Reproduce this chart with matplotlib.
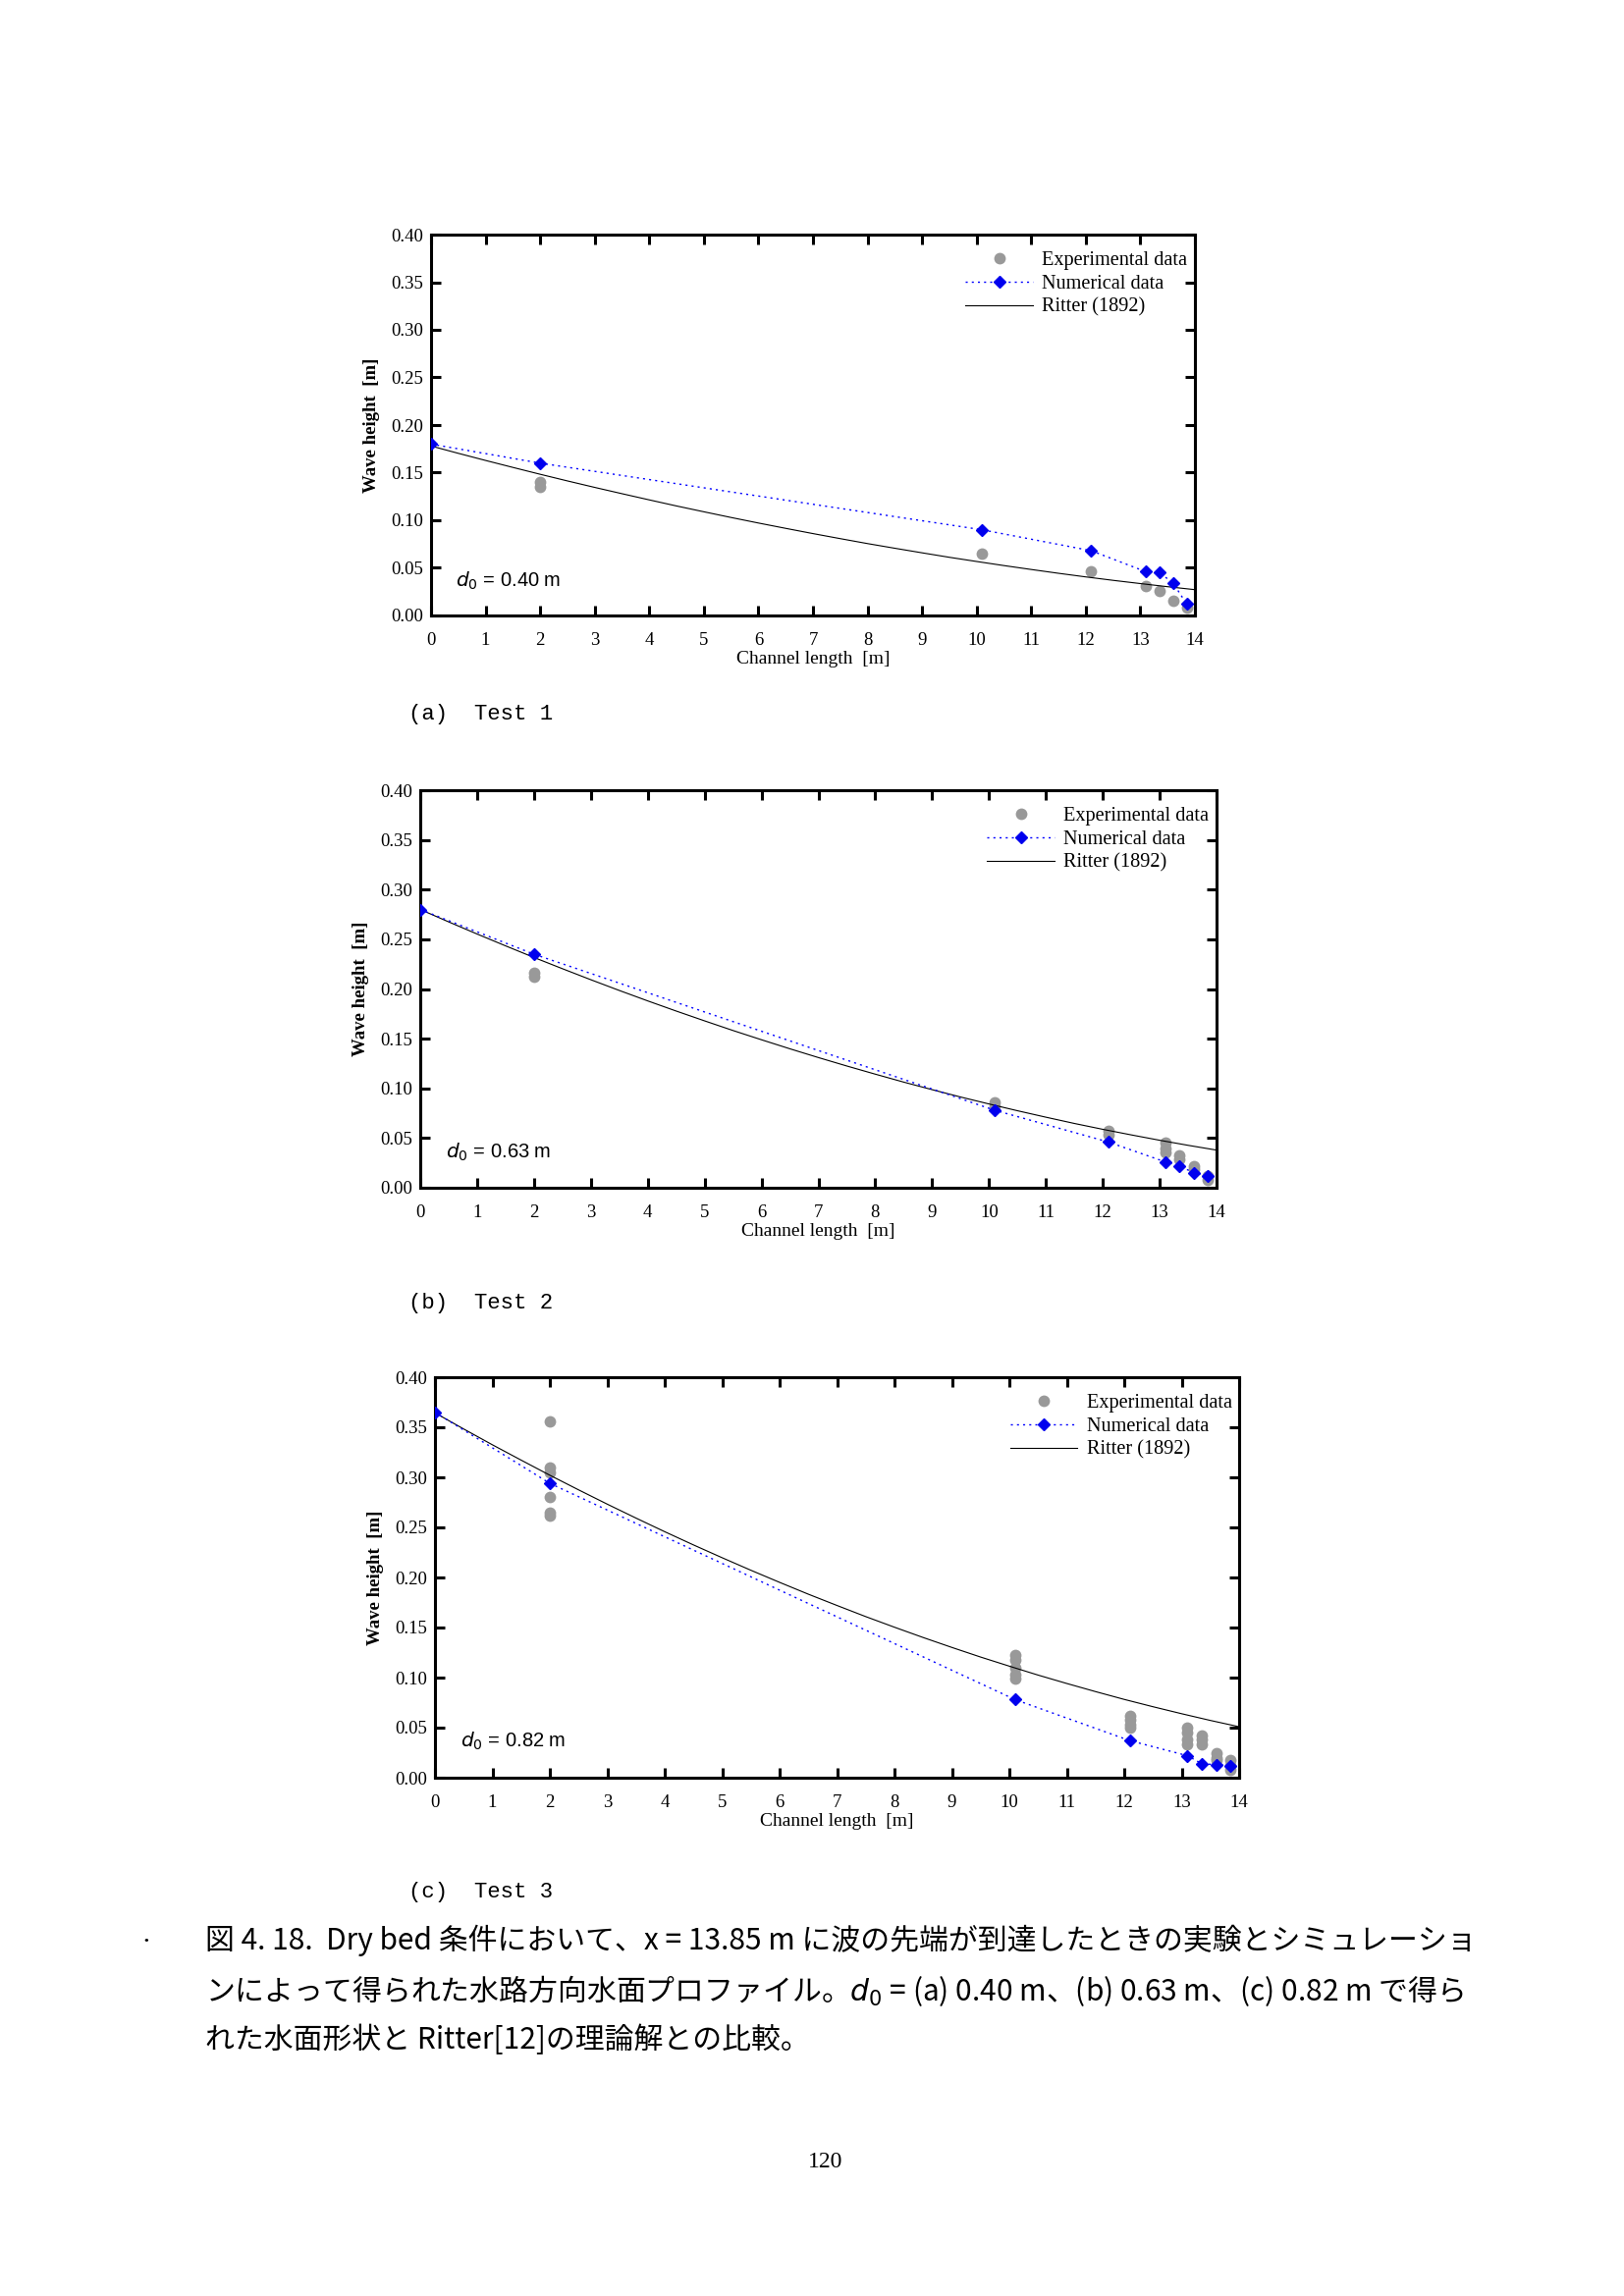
import matplotlib
matplotlib.use("Agg")
import matplotlib.pyplot as plt
from matplotlib.lines import Line2D

plt.rcParams['font.family'] = ['Liberation Serif', 'DejaVu Serif']

# ---------------- data ----------------
num_x = [0, 2, 10.1, 12.1, 13.1, 13.35, 13.6, 13.85]
num_a = [0.180, 0.160, 0.090, 0.068, 0.046, 0.045, 0.034, 0.012]
num_b = [0.280, 0.235, 0.078, 0.046, 0.026, 0.022, 0.015, 0.012]
num_c = [0.365, 0.294, 0.078, 0.037, 0.022, 0.014, 0.013, 0.012]

exp_a_x = [2, 2, 10.1, 12.1, 13.1, 13.35, 13.6, 13.85]
exp_a_y = [0.135, 0.140, 0.065, 0.046, 0.031, 0.026, 0.015, 0.008]

exp_b_x = [2, 2, 10.1, 10.1, 12.1, 12.1, 13.1, 13.1, 13.1, 13.35, 13.35, 13.6, 13.6, 13.85, 13.85]
exp_b_y = [0.212, 0.216, 0.086, 0.082, 0.057, 0.053, 0.045, 0.040, 0.036, 0.033, 0.029, 0.022, 0.019, 0.012, 0.008]

exp_c_x = [2, 2, 2, 2, 2, 2,
           10.1, 10.1, 10.1, 10.1, 10.1,
           12.1, 12.1, 12.1, 12.1,
           13.1, 13.1, 13.1, 13.1,
           13.35, 13.35, 13.35,
           13.6, 13.6, 13.6,
           13.85, 13.85, 13.85]
exp_c_y = [0.356, 0.310, 0.305, 0.280, 0.265, 0.262,
           0.123, 0.118, 0.110, 0.103, 0.099,
           0.062, 0.058, 0.053, 0.050,
           0.050, 0.045, 0.038, 0.033,
           0.042, 0.038, 0.033,
           0.025, 0.020, 0.018,
           0.018, 0.012, 0.008]

ritter_x = [0, 0.5, 1, 1.5, 2, 2.5, 3, 3.5, 4, 4.5, 5, 5.5, 6, 6.5, 7, 7.5,
            8, 8.5, 9, 9.5, 10, 10.5, 11, 11.5, 12, 12.5, 13, 13.5, 14]
ritter_a = [0.1780, 0.1703, 0.1628, 0.1555, 0.1483, 0.1413, 0.1345, 0.1279, 0.1214,
            0.1150, 0.1089, 0.1029, 0.0971, 0.0915, 0.0860, 0.0807, 0.0755, 0.0706,
            0.0658, 0.0611, 0.0567, 0.0524, 0.0483, 0.0443, 0.0405, 0.0369, 0.0335,
            0.0302, 0.0271]
ritter_b = [0.2800, 0.2675, 0.2553, 0.2434, 0.2317, 0.2204, 0.2093, 0.1985, 0.1880,
            0.1778, 0.1679, 0.1582, 0.1489, 0.1398, 0.1310, 0.1225, 0.1143, 0.1063,
            0.0987, 0.0913, 0.0843, 0.0775, 0.0710, 0.0647, 0.0588, 0.0532, 0.0478,
            0.0427, 0.0379]
ritter_c = [0.3644, 0.3483, 0.3325, 0.3172, 0.3021, 0.2875, 0.2732, 0.2593, 0.2457,
            0.2325, 0.2197, 0.2072, 0.1951, 0.1833, 0.1720, 0.1609, 0.1503, 0.1400,
            0.1301, 0.1205, 0.1114, 0.1025, 0.0941, 0.0860, 0.0782, 0.0709, 0.0639,
            0.0572, 0.0509]

d0_labels = ["0.40", "0.63", "0.82"]
panel_titles = ["(a)  Test 1", "(b)  Test 2", "(c)  Test 3"]
legend_labels = ["Experimental data", "Numerical data", "Ritter (1892)"]
xticks = list(range(0, 15))
yticks = [0.00, 0.05, 0.10, 0.15, 0.20, 0.25, 0.30, 0.35, 0.40]

# ---------------- figure ----------------
fig = plt.figure(figsize=(16.54, 23.39), dpi=100)

W, H = 1654.0, 2339.0
boxes = [(439, 239, 1217, 627), (428, 805, 1239, 1210), (443, 1403, 1262, 1811)]
exps = [(exp_a_x, exp_a_y), (exp_b_x, exp_b_y), (exp_c_x, exp_c_y)]
nums = [num_a, num_b, num_c]
ritters = [ritter_a, ritter_b, ritter_c]
title_y = [727, 1327, 1927]

for i in range(3):
    l, t, r, b = boxes[i]
    ax = fig.add_axes([l / W, 1 - b / H, (r - l) / W, (b - t) / H])
    ex, ey = exps[i]
    ax.plot(ex, ey, 'o', color='#999999', markersize=8.5, markeredgewidth=0,
            linestyle='none', zorder=2)
    ax.plot(num_x, nums[i], linestyle=(0, (1.5, 3)), color='#0000FF', linewidth=1.0,
            marker='D', markersize=6.5, markerfacecolor='#0000EE',
            markeredgecolor='#0000EE', zorder=4)
    ax.plot(ritter_x, ritters[i], '-', color='black', linewidth=0.8, zorder=3)

    ax.set_xlim(0, 14)
    ax.set_ylim(0, 0.40)
    ax.set_xticks(xticks)
    ax.set_yticks(yticks)
    ax.set_xticklabels([str(v) for v in xticks], fontsize=13.5)
    ax.set_yticklabels(["%.2f" % v for v in yticks], fontsize=13.5)
    ax.tick_params(axis='both', which='major', direction='in', length=7.2, width=2.2,
                   top=True, right=True, bottom=True, left=True)
    ax.tick_params(axis='x', pad=12)
    ax.tick_params(axis='y', pad=6)
    for sp in ax.spines.values():
        sp.set_linewidth(2.2)

    ax.set_xlabel("Channel length  [m]", fontsize=14, labelpad=2)
    ax.set_ylabel("Wave height  [m]", fontsize=13.5, fontweight='bold', labelpad=8)

    ax.text(0.032, 0.09, r"$d_0$ = " + d0_labels[i] + " m", transform=ax.transAxes,
            fontsize=14.5, family=['Liberation Sans', 'DejaVu Sans'], va='center', ha='left')

    handles = [
        Line2D([], [], marker='o', color='#999999', linestyle='none', markersize=8.5,
               markeredgewidth=0),
        Line2D([], [], marker='D', color='#0000FF', linestyle=(0, (1.5, 3)), linewidth=1.0,
               markersize=6.5, markerfacecolor='#0000EE', markeredgecolor='#0000EE'),
        Line2D([], [], color='black', linewidth=0.8),
    ]
    ax.legend(handles, legend_labels,
              loc='upper right', bbox_to_anchor=(1.012, 1.0), frameon=False,
              fontsize=14.6, handlelength=3.4,
              borderaxespad=0.15, borderpad=0.7, labelspacing=0.22, handletextpad=0.45)

    fig.text(416 / W, 1 - title_y[i] / H, panel_titles[i], fontsize=16,
             family=['Liberation Mono', 'DejaVu Sans Mono'], va='center', ha='left')

# caption
cap_font = ['Noto Sans CJK JP', 'DejaVu Sans']
fig.text(140 / W, 1 - 1977 / H, "・", fontsize=12, family=cap_font, va='center', ha='left')
cap_lines = [
    "図 4. 18.  Dry bed 条件において、x = 13.85 m に波の先端が到達したときの実験とシミュレーショ",
    "ンによって得られた水路方向水面プロファイル。$d_0$ = (a) 0.40 m、(b) 0.63 m、(c) 0.82 m で得ら",
    "れた水面形状と Ritter[12]の理論解との比較。",
]
cap_y = [1977, 2028, 2078]
for s, y in zip(cap_lines, cap_y):
    fig.text(209 / W, 1 - y / H, s, fontsize=21.5, family=cap_font, va='center', ha='left')

fig.text(841 / W, 1 - 2203 / H, "120", fontsize=17, va='center', ha='center')

fig.savefig("out.png", dpi=100)
